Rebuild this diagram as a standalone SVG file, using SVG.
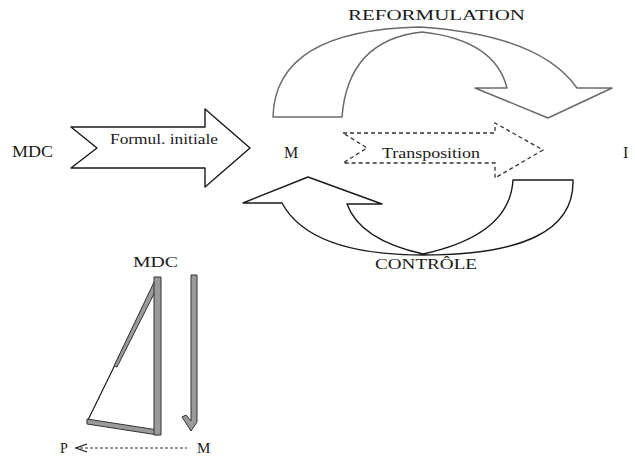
<svg xmlns="http://www.w3.org/2000/svg" width="635" height="458" viewBox="0 0 635 458">
<style>
text{font-family:"Liberation Serif","Times New Roman",serif;fill:#1a1a1a;}
.blk{fill:none;stroke:#1a1a1a;stroke-width:1.4;stroke-linejoin:round;}
.gry{fill:none;stroke:#6a6a6a;stroke-width:1.5;stroke-linejoin:round;}
.dsh{fill:none;stroke:#333;stroke-width:1.3;stroke-dasharray:4,3;}
.bar{fill:#9a9a9a;stroke:#333;stroke-width:1;}
</style>
<rect width="635" height="458" fill="#fff"/>
<g id="connectors">
  <path id="formul" class="blk" d="M71,127 H205 V109 L250,148 L205,187 V168 H71 L97,148 Z"/>
  <path id="reformulation-arrow" class="gry" d="M273,117 Q275,30 420,27 Q540,35 577,88 L612,88 L548,118 L475,88 L507,88 Q495,40 422,32 Q348,40 342,117 Z"/>
  <path id="transposition" class="dsh" d="M343,133 H495 V123 L543,150 L495,178 V163 H343 L367,148 Z"/>
  <path id="controle-arrow" class="blk" d="M282,203 Q310,255 423,255 Q575,255 573,180 L513,180 Q510,235 423,254 Q360,240 347,204 L382,204 L308,177 L243,203 Z"/>
  <g id="triangle">
    <line x1="87" y1="422" x2="158" y2="277" stroke="#1a1a1a" stroke-width="1.2"/>
    <polygon class="bar" points="156,278 161,280 117,367 114,366"/>
    <polygon class="bar" points="87,419 158,430 158,435 87,424"/>
    <polygon class="bar" points="154,277 161,277 161,435 154,435"/>
  </g>
  <path id="down-arrow" class="bar" d="M191,275 H197 V422 L191,431 L182,417 L186,415 L191,421 Z"/>
  <g id="m-to-p">
    <line x1="80" y1="448" x2="187" y2="448" stroke="#333" stroke-width="1" stroke-dasharray="3,2"/>
    <path d="M87,444 L76,448 L87,452" fill="none" stroke="#1a1a1a" stroke-width="1.3"/>
  </g>
</g>
<g id="node-mdc"><text x="12" y="157" font-size="16" textLength="41" lengthAdjust="spacingAndGlyphs">MDC</text></g>
<g id="node-formul-label"><text x="110" y="144" font-size="15" textLength="108" lengthAdjust="spacingAndGlyphs">Formul. initiale</text></g>
<g id="node-m"><text x="284" y="158" font-size="16">M</text></g>
<g id="node-transposition-label"><text x="382" y="158" font-size="14" textLength="98" lengthAdjust="spacingAndGlyphs">Transposition</text></g>
<g id="node-i"><text x="623" y="158" font-size="16">I</text></g>
<g id="node-reformulation"><text x="348" y="20" font-size="15" textLength="177" lengthAdjust="spacingAndGlyphs">REFORMULATION</text></g>
<g id="node-controle"><text x="375" y="269" font-size="15" textLength="102" lengthAdjust="spacingAndGlyphs">CONTRÔLE</text></g>
<g id="node-mdc2"><text x="133" y="267" font-size="14" textLength="45" lengthAdjust="spacingAndGlyphs">MDC</text></g>
<g id="node-p"><text x="60" y="453" font-size="14">P</text></g>
<g id="node-m2"><text x="197" y="453" font-size="15">M</text></g>
</svg>
